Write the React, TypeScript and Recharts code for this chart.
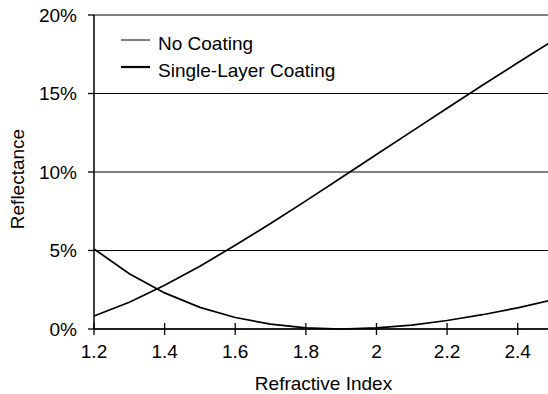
import React from 'react';
import { LineChart, Line, XAxis, YAxis, CartesianGrid, Legend, Label } from 'recharts';

// refractive index of the substrate
const refractiveIndex = [1.2, 1.3, 1.4, 1.5, 1.6, 1.7, 1.8, 1.9, 2.0, 2.1, 2.2, 2.3, 2.4, 2.5];
// reflectance in percent
const noCoating = [0.83, 1.7, 2.78, 4.0, 5.33, 6.72, 8.16, 9.63, 11.11, 12.59, 14.06, 15.52, 16.96, 18.37];
const singleLayerCoating = [5.1, 3.52, 2.3, 1.38, 0.73, 0.31, 0.07, 0.0, 0.07, 0.25, 0.54, 0.91, 1.35, 1.86];

const xTicks = [1.2, 1.4, 1.6, 1.8, 2, 2.2, 2.4];
const yTicks = [0, 5, 10, 15, 20];

const data = refractiveIndex.map((n, i) => ({
  n,
  noCoating: noCoating[i],
  singleLayer: singleLayerCoating[i],
}));

const FONT = '"Liberation Sans", Arial, Helvetica, sans-serif';
const FONT_SIZE = 19;

// x ticks cross the axis line, so the tick mark is drawn here
const XTick = (props: any) => {
  const { x, y, payload } = props;
  const axisY = y - 16;
  return (
    <g>
      <line x1={x} x2={x} y1={axisY - 6} y2={axisY + 6} stroke="#000" strokeWidth={1.3} />
      <text x={x} y={y} dy="0.71em" textAnchor="middle" fontSize={FONT_SIZE} fontFamily={FONT} fill="#000">
        {payload.value}
      </text>
    </g>
  );
};

const renderLegend = () => (
  <svg width={260} height={60}>
    <line x1={3} x2={32} y1={12} y2={12} stroke="#000" strokeWidth={1} />
    <text x={40} y={21.5} fontSize={FONT_SIZE} fontFamily={FONT} fill="#000">No Coating</text>
    <line x1={3} x2={32} y1={39} y2={39} stroke="#000" strokeWidth={2.2} />
    <text x={40} y={48.5} fontSize={FONT_SIZE} fontFamily={FONT} fill="#000">Single-Layer Coating</text>
  </svg>
);

export default function App() {
  return (
    <div
      style={{
        position: 'fixed',
        left: 0,
        top: 0,
        width: 548,
        height: 394,
        overflow: 'hidden',
        background: '#fff',
      }}
    >
      <LineChart width={556} height={394} data={data} margin={{ top: 15, right: 3, bottom: 0, left: 0 }}>
        <CartesianGrid vertical={false} stroke="#000" strokeWidth={1} />
        <XAxis
          dataKey="n"
          type="number"
          domain={[1.2, 2.5]}
          ticks={xTicks}
          height={65}
          tickSize={6}
          tickMargin={10}
          tickLine={false}
          tick={<XTick />}
          axisLine={{ stroke: '#000', strokeWidth: 1.5 }}
        >
          <Label
            value="Refractive Index"
            position="insideBottom"
            offset={4}
            style={{ fontSize: FONT_SIZE, fontFamily: FONT, fill: '#000' }}
          />
        </XAxis>
        <YAxis
          domain={[0, 20]}
          ticks={yTicks}
          width={94}
          tickSize={6}
          tickMargin={11}
          tickFormatter={(v: number) => `${v}%`}
          tick={{ fontSize: FONT_SIZE, fontFamily: FONT, fill: '#000' }}
          tickLine={{ stroke: '#000', strokeWidth: 1.3 }}
          axisLine={{ stroke: '#000', strokeWidth: 1.5 }}
        >
          <Label
            content={() => (
              <text
                x={17}
                y={179}
                transform="rotate(-90 17 179)"
                textAnchor="middle"
                dominantBaseline="central"
                fontSize={FONT_SIZE}
                fontFamily={FONT}
                fill="#000"
              >
                Reflectance
              </text>
            )}
          />
        </YAxis>
        <Legend
          layout="horizontal"
          verticalAlign="middle"
          align="center"
          wrapperStyle={{ position: 'absolute', top: 28, left: 118, width: 'auto' }}
          content={renderLegend}
        />
        <Line
          type="linear"
          dataKey="noCoating"
          name="No Coating"
          stroke="#000"
          strokeWidth={1.7}
          dot={false}
          isAnimationActive={false}
        />
        <Line
          type="linear"
          dataKey="singleLayer"
          name="Single-Layer Coating"
          stroke="#000"
          strokeWidth={1.7}
          dot={false}
          isAnimationActive={false}
        />
      </LineChart>
    </div>
  );
}
